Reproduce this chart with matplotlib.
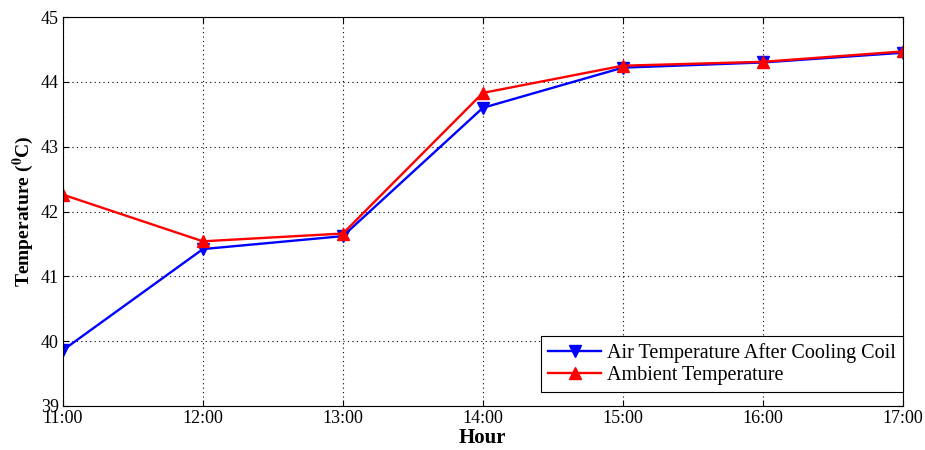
import numpy as np
import matplotlib.pyplot as plt

hours = ['11:00', '12:00', '13:00', '14:00', '15:00', '16:00', '17:00']
air_after_coil = [39.86, 41.42, 41.62, 43.60, 44.22, 44.30, 44.45]
ambient = [42.26, 41.54, 41.66, 43.83, 44.25, 44.31, 44.47]

plt.rcParams['font.family'] = 'Liberation Serif'
plt.rcParams['mathtext.fontset'] = 'stix'

fig = plt.figure(figsize=(9.25, 4.5), dpi=100)
ax = fig.add_axes([0.068, 0.098, 0.908, 0.864])

x = np.arange(len(hours))
ax.plot(x, air_after_coil, color='blue', lw=1.7, marker='v', ms=8,
        label='Air Temperature After Cooling Coil')
ax.plot(x, ambient, color='red', lw=1.7, marker='^', ms=8,
        label='Ambient Temperature')

ax.set_xlim(0, len(hours) - 1)
ax.set_ylim(39, 45)
ax.set_xticks(x)
ax.set_xticklabels(hours)
ax.set_yticks(range(39, 46))
ax.tick_params(direction='in', top=True, right=True, labelsize=13, length=4, pad=3)
ax.grid(True, color='black', linestyle=(0, (1, 3)), lw=0.8)
for s in ax.spines.values():
    s.set_linewidth(0.8)

ax.set_xlabel('Hour', fontsize=15, fontweight='bold', labelpad=1)
ax.set_ylabel(r'Temperature ($^{\mathbf{0}}$C)', fontsize=14, fontweight='bold', labelpad=3)

# legend box sits against the right spine, a little above the bottom
leg = ax.legend(loc='lower right', bbox_to_anchor=(1.0, 0.035), fontsize=14.5,
                fancybox=False, framealpha=1, edgecolor='black', borderaxespad=0,
                handlelength=2.6, handletextpad=0.3, labelspacing=0.15,
                borderpad=0.35)
leg.get_frame().set_linewidth(0.8)

fig.savefig('out.png', dpi=100)
